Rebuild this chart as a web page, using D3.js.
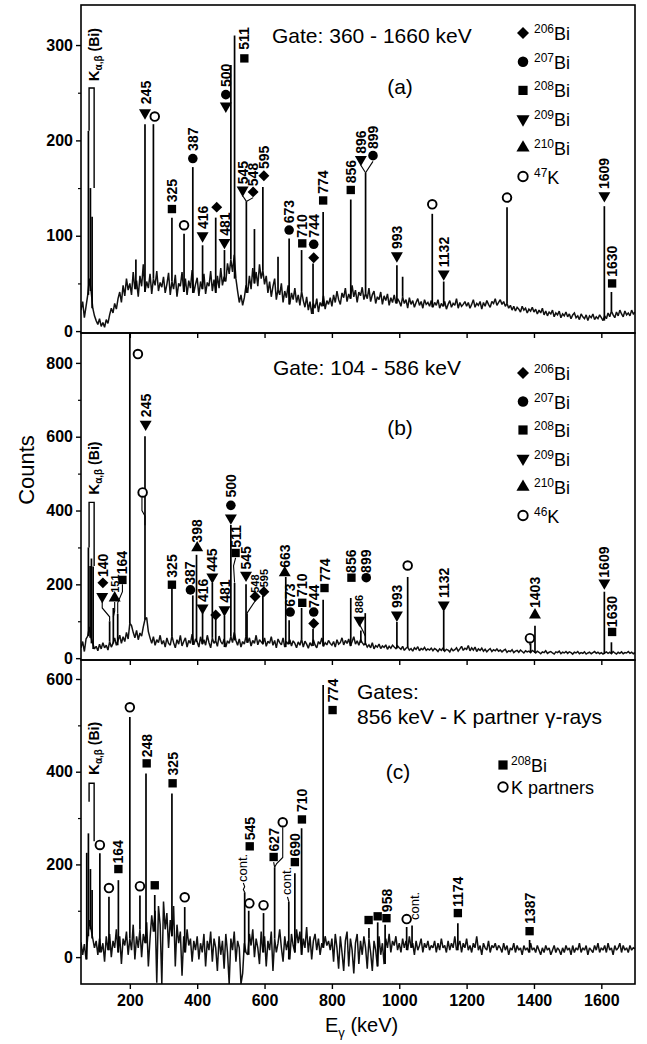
<!DOCTYPE html>
<html>
<head>
<meta charset="utf-8">
<script src="https://cdn.jsdelivr.net/npm/d3@7"></script>
<style>
  body { margin: 0; background: #fff; }
  text { font-family: "Liberation Sans", Arial, sans-serif; fill: #000; }
</style>
</head>
<body>
<svg></svg>
<script>
// spectra: counts every 5 keV starting at 55 keV
const eStart = 55, eStep = 5;
const xDomain = [55, 1700];
const xTicks = [200, 400, 600, 800, 1000, 1200, 1400, 1600];

// ---- panel (a) ----
const countsA = [
  22, 31, 14, 26, 38, 55, 42, 24, 16,
  11, 7, 13, 5, 9, 4, 12, 8, 17, 24, 19, 29, 23, 34, 41, 30, 48, 37, 55, 43,
  50, 38, 62, 44, 53, 36, 58, 47, 70, 41, 52, 45, 60, 39, 55, 48, 63, 42, 51, 46,
  57, 40, 49, 61, 38, 52, 44, 59, 36, 50, 47, 62, 41, 55, 38, 53, 45, 64, 40, 49,
  56, 37, 52, 44, 60, 39, 51, 47, 63, 42, 54, 40, 58, 45, 66, 48, 57, 52, 71, 60,
  75, 62, 80, 55, 42, 30, 38, 27, 35, 48, 40, 58, 44, 66, 50, 62, 47, 70, 55, 64,
  49, 58, 40, 52, 36, 47, 55, 33, 44, 38, 50, 30, 42, 35, 48, 28, 40, 33, 45, 30,
  38, 27, 42, 32, 25, 36, 22, 31, 18, 29, 24, 34, 20, 30, 26, 37, 23, 32, 28, 35,
  26, 38, 30, 42, 33, 28, 40, 35, 45, 31, 39, 34, 48, 36, 43, 30, 41, 37, 46, 33,
  40, 34, 45, 31, 38, 42, 29, 36, 33, 41, 28, 37, 32, 39, 27, 35, 30, 38, 29, 34,
  31, 26, 36, 29, 33, 24, 35, 28, 32, 25, 30, 34, 27, 31, 24, 33, 28, 30, 26, 32,
  25, 30, 27, 33, 24, 29, 26, 31, 23, 28, 32, 25, 29, 27, 34, 24, 30, 26, 28, 31,
  26, 30, 24, 28, 33, 25, 29, 27, 31, 23, 30, 26, 32, 28, 25, 31, 29, 34, 27, 30,
  33, 28, 31, 26, 29, 24, 27, 22, 26, 21, 25, 23, 20, 26, 22, 24, 19, 23, 21, 25,
  20, 23, 18, 22, 19, 24, 17, 21, 16, 20, 18, 22, 15, 19, 17, 21, 14, 18, 16, 20,
  15, 18, 13, 17, 19, 14, 16, 12, 18, 15, 13, 17, 11, 16, 14, 18, 12, 15, 13, 17,
  14, 11, 16, 13, 19, 15, 21, 17, 14, 20, 16, 22, 18, 15, 21, 17, 19, 16, 22, 18, 20
];
const peaksA = [[77, 210], [83, 150], [88, 120], [218, 75], [245, 217], [270, 217], [325, 119], [361, 102],
  [387, 172], [416, 90], [455, 119], [481, 85], [500, 279], [511, 310], [546, 136], [570, 107],
  [595, 151], [640, 78], [673, 97], [710, 85], [744, 71], [774, 125], [856, 138], [900, 166], [993, 69],
  [1010, 57], [1098, 123], [1132, 52], [1320, 130], [1609, 131], [1630, 41]];
const marksA = [[245, 229, 'v'], [274, 225, 'o'], [325, 128, 's'], [361, 111, 'o'], [387, 181, 'c'],
  [416, 100, 'v'], [458, 130, 'd'], [481, 93, 'v'], [485, 236, 'v'], [485, 248, 'c'], [540, 286, 's'],
  [535, 148, 'v'], [566, 146, 'd'], [598, 163, 'd'], [673, 106, 'c'], [712, 92, 's'], [746, 91, 'c'],
  [746, 77, 'd'], [774, 137, 's'], [856, 148, 's'], [886, 180, 'v'], [922, 184, 'c'], [993, 79, 'v'],
  [1098, 133, 'o'], [1132, 60, 'v'], [1320, 140, 'o'], [1609, 142, 'v'], [1632, 50, 's']];
const labelsA = [[247, 238, '245'], [325, 135, '325'], [387, 189, '387'], [416, 107, '416'],
  [481, 100, '481'], [485, 256, '500'], [540, 295, '511'], [535, 154, '545'], [566, 152, '548'],
  [598, 170, '595'], [673, 113, '673'], [712, 98, '710'], [746, 98, '744'], [774, 144, '774'],
  [856, 155, '856'], [886, 186, '896'], [922, 191, '899'], [993, 86, '993'], [1132, 67, '1132'],
  [1609, 149, '1609'], [1632, 57, '1630']];
const leadersA = [[[535, 142], [546, 136]], [[566, 140], [546, 136]],
  [[886, 174], [900, 166]], [[922, 178], [900, 166]]];
const bracketA = [79, 94, 255, 210, 150];
const kLabelA = [94, 262];
const legendA = [['d', '206', 'Bi'], ['c', '207', 'Bi'], ['s', '208', 'Bi'], ['v', '209', 'Bi'], ['^', '210', 'Bi'], ['o', '47', 'K']];
const yDomainA = [-2, 342], yMajorA = [0, 100, 200, 300], yMinorA = [50, 150, 250];

// ---- panel (b) ----
const countsB = [
  28, 45, 18, 52, 60, 85, 55, 40, 25,
  32, 20, 38, 25, 42, 28, 35, 22, 45, 30, 40, 55, 35, 48, 62, 40, 58, 45, 70, 52,
  95, 88, 70, 55, 75, 50, 68, 60, 85, 105, 110, 72, 55, 40, 58, 35, 50, 42, 62, 38,
  48, 30, 55, 40, 35, 60, 42, 28, 50, 38, 62, 33, 45, 55, 30, 48, 40, 65, 36, 52,
  44, 30, 58, 38, 50, 35, 62, 42, 28, 55, 40, 48, 32, 60, 45, 38, 52, 30, 47, 40,
  58, 42, 70, 48, 35, 52, 30, 45, 38, 60, 42, 55, 33, 48, 40, 62, 36, 50, 44, 38,
  55, 32, 46, 40, 58, 35, 48, 28, 52, 42, 36, 55, 30, 45, 38, 50, 33, 47, 40, 28,
  44, 35, 52, 30, 46, 38, 27, 42, 33, 50, 36, 28, 45, 38, 55, 32, 42, 36, 48, 40,
  35, 45, 30, 50, 38, 42, 55, 36, 48, 40, 52, 33, 45, 58, 38, 47, 35, 50, 42, 36,
  40, 30, 36, 28, 42, 25, 34, 30, 38, 26, 33, 29, 36, 24, 32, 27, 35, 30, 26, 33,
  28, 24, 32, 21, 27, 30, 22, 26, 19, 28, 24, 31, 20, 26, 23, 29, 21, 25, 22, 27,
  20, 26, 23, 18, 25, 21, 28, 19, 24, 22, 17, 26, 20, 23, 28, 19, 25, 32, 21, 27,
  24, 34, 20, 28, 22, 30, 18, 25, 21, 27, 19, 24, 17, 22, 26, 18, 23, 20, 25, 19,
  22, 17, 21, 24, 16, 20, 18, 23, 15, 19, 21, 16, 22, 18, 14, 20, 17, 19, 15, 21,
  18, 14, 19, 16, 12, 17, 15, 20, 13, 16, 18, 14, 11, 17, 15, 19, 12, 16, 14, 18,
  13, 17, 15, 11, 16, 14, 18, 12, 15, 13, 17, 11, 14, 16, 12, 15, 18, 13, 16, 12,
  15, 11, 14, 17, 13, 16, 12, 18, 14, 11, 16, 13, 17, 12, 15, 14, 18, 13, 16, 12, 15
];
const peaksB = [[77, 300], [82, 250], [86, 270], [91, 248], [140, 100], [151, 136], [164, 120],
  [200, 1000], [245, 601], [325, 190], [387, 170], [398, 280], [416, 123], [445, 204], [455, 110],
  [481, 115], [500, 361], [511, 204], [545, 200], [548, 122], [595, 170], [663, 220], [673, 103],
  [710, 136], [744, 80], [774, 158], [856, 163], [886, 75], [899, 122], [993, 98], [1025, 220],
  [1132, 128], [1390, 40], [1403, 88], [1609, 180], [1630, 43]];
const marksB = [[120, 204, 'd'], [118, 167, 'v'], [155, 163, '^'], [178, 212, 's'], [224, 824, 'o'],
  [247, 634, 'v'], [238, 449, 'o'], [325, 199, 's'], [380, 185, 'c'], [400, 299, '^'], [416, 136, 'v'],
  [445, 220, 'v'], [455, 117, 'd'], [481, 131, 'v'], [500, 414, 'c'], [500, 380, 'v'], [514, 285, 's'],
  [545, 225, 'v'], [572, 167, 'd'], [598, 180, 'd'], [660, 231, '^'], [676, 125, 'c'], [712, 150, 's'],
  [746, 125, 'c'], [746, 94, 'd'], [778, 190, 's'], [858, 218, 's'], [882, 103, 'v'], [902, 218, 'c'],
  [993, 117, 'v'], [1025, 251, 'o'], [1132, 144, 'v'], [1403, 117, '^'], [1388, 54, 'o'],
  [1609, 204, 'v'], [1632, 71, 's']];
const labelsB = [[120, 220, '140'], [157, 177, '151', 1], [178, 227, '164'], [247, 653, '245'],
  [325, 218, '325'], [380, 199, '387'], [400, 313, '398'], [416, 152, '416'], [445, 234, '445'],
  [481, 150, '481'], [500, 435, '500'], [514, 299, '511'], [545, 240, '545'], [572, 177, '548', 1],
  [598, 192, '595', 1], [660, 245, '663'], [676, 139, '673'], [712, 166, '710'], [746, 136, '744'],
  [778, 207, '774'], [858, 231, '856'], [882, 122, '886', 1], [902, 231, '899'], [993, 136, '993'],
  [1132, 163, '1132'], [1403, 136, '1403'], [1609, 218, '1609'], [1632, 84, '1630']];
const leadersB = [[[118, 152], [118, 136], [140, 112], [140, 100]],
  [[155, 152], [155, 128], [151, 112]],
  [[178, 200], [178, 180], [164, 150], [164, 120]],
  [[236, 436], [236, 400], [245, 385], [245, 360]],
  [[514, 272], [508, 250], [511, 205]],
  [[572, 155], [548, 122]],
  [[882, 92], [893, 72], [899, 60]],
  [[1388, 42], [1388, 35]]];
const bracketB = [79, 94, 422, 300, 250];
const kLabelB = [94, 443];
const legendB = [['d', '206', 'Bi'], ['c', '207', 'Bi'], ['s', '208', 'Bi'], ['v', '209', 'Bi'], ['^', '210', 'Bi'], ['o', '46', 'K']];
const yDomainB = [-5, 881], yMajorB = [0, 200, 400, 600, 800], yMinorB = [100, 300, 500, 700];

// ---- panel (c) ----
const countsC = [
  32, 5, 28, -5, 45, 80, 60, 40, 20,
  35, 5, 40, 10, 30, -10, 45, 15, 50, 0, 35, 20, 60, 10, 45, -15, 40, 25, 55, 5,
  40, 15, 70, -5, 45, 20, 60, 0, 50, 30, 75, -20, 40, 90, 55, 100, -55, 110, 70, -58,
  120, 60, 95, 20, 80, 45, 110, -20, 70, 30, 55, -40, 45, 10, 60, 25, 40, -10, 35, 15,
  45, -5, 30, 10, 50, -20, 35, 15, 55, -10, 40, 20, -30, 45, 5, 35, -25, 50, 10, -58,
  40, 15, 55, -10, 35, 20, -58, -35, 30, 10, 5, 50, 25, 60, 0, 40, 20, -15, 55, 10,
  45, -20, 35, 15, 55, -30, 40, 10, 30, 60, 20, -10, 45, 15, 35, -5, 50, 25, 10, 60,
  30, 55, 5, 40, 20, 65, 10, 45, -5, 35, 50, 15, 40, 5, 30, 20, 45, 25, 35, 15,
  40, -10, 50, 20, -25, 45, 10, -30, 35, 55, -20, 40, 15, -35, 30, 50, -15, 35, 5, 45,
  20, -25, 40, 10, -30, 35, 15, -20, 45, 5, 30, -15, 40, 20, 50, 10, 35, 25, 45, 15,
  30, 10, 40, 20, 35, 15, 45, 20, 30, 5, 35, 15, 25, 40, 10, 30, 20, 35, 15, 25,
  20, 35, 10, 30, 15, 40, 20, 25, 10, 35, 15, 30, 20, 45, 15, 25, 35, 10, 30, 20,
  40, 15, 25, 10, 30, 20, 45, 15, 25, 5, 30, 20, 15, 35, 10, 25, 20, 30, 15, 25,
  20, 10, 30, 15, 25, 5, 20, 15, 30, 10, 25, 15, 20, 5, 25, 15, 20, 10, 30, 15,
  20, 10, 25, 15, 5, 20, 10, 25, 15, 20, 5, 15, 25, 10, 20, 15, 5, 20, 10, 25,
  15, 20, 5, 25, 10, 20, 15, 30, 10, 20, 15, 25, 5, 20, 15, 10, 25, 15, 30, 10,
  20, 15, 25, 10, 30, 15, 20, 5, 25, 15, 20, 30, 10, 25, 15, 20, 10, 25, 15, 20, 18
];
const peaksC = [[72, 225], [77, 267], [83, 190], [88, 145], [111, 224], [138, 130], [166, 166],
  [200, 518], [230, 133], [248, 396], [274, 134], [325, 353], [363, 108], [541, 140], [553, 100],
  [597, 95], [630, 194], [672, 120], [690, 181], [710, 278], [774, 587], [910, 63], [936, 75],
  [958, 70], [1022, 65], [1038, 68], [1174, 73], [1387, 37]];
const marksC = [[111, 242, 'o'], [138, 149, 'o'], [166, 190, 's'], [200, 539, 'o'], [230, 153, 'o'],
  [250, 418, 's'], [274, 155, 's'], [327, 375, 's'], [363, 129, 'o'], [556, 239, 's'], [555, 116, 'o'],
  [597, 112, 'o'], [627, 216, 's'], [654, 291, 'o'], [690, 205, 's'], [711, 297, 's'], [802, 533, 's'],
  [909, 80, 's'], [936, 88, 's'], [962, 84, 's'], [1022, 82, 'o'], [1174, 95, 's'], [1387, 56, 's']];
const labelsC = [[166, 202, '164'], [250, 431, '248'], [327, 392, '325'], [556, 252, '545'],
  [627, 228, '627'], [690, 217, '690'], [711, 313, '710'], [802, 550, '774'], [962, 97, '958'],
  [1174, 108, '1174'], [1387, 72, '1387'],
  [535, 162, 'cont.', 2], [666, 134, 'cont.', 2], [1045, 80, 'cont.', 2]];
const leadersC = [[[537, 160], [541, 152], [537, 146], [541, 140]],
  [[627, 205], [630, 194]],
  [[654, 280], [654, 215], [636, 202], [630, 194]],
  [[668, 130], [672, 120]]];
const bracketC = [79, 94, 375, 335, 250];
const kLabelC = [94, 393];
const legendC = [['s', '208', 'Bi'], ['o', '', 'K partners']];
const yDomainC = [-58, 641], yMajorC = [0, 200, 400, 600], yMinorC = [100, 300, 500];

// ---- layout ----
const svg = d3.select('svg').attr('width', 647).attr('height', 1044);
const x = d3.scaleLinear().domain(xDomain).range([81, 635]);

const panels = [
  {top: 5, bottom: 333, yDomain: yDomainA, yMajor: yMajorA, yMinor: yMinorA, counts: countsA,
   peaks: peaksA, marks: marksA, labels: labelsA, leaders: leadersA, bracket: bracketA, kLabel: kLabelA,
   legend: legendA, legendX: 523, legendTop: 28, legendGap: 28.7,
   titles: [['Gate: 360 - 1660 keV', 272, 38]], tag: ['(a)', 400, 89]},
  {top: 333, bottom: 660, yDomain: yDomainB, yMajor: yMajorB, yMinor: yMinorB, counts: countsB,
   peaks: peaksB, marks: marksB, labels: labelsB, leaders: leadersB, bracket: bracketB, kLabel: kLabelB,
   legend: legendB, legendX: 523, legendTop: 40, legendGap: 28.5,
   titles: [['Gate: 104 - 586 keV', 273, 42]], tag: ['(b)', 400, 102]},
  {top: 660, bottom: 984, yDomain: yDomainC, yMajor: yMajorC, yMinor: yMinorC, counts: countsC,
   peaks: peaksC, marks: marksC, labels: labelsC, leaders: leadersC, bracket: bracketC, kLabel: kLabelC,
   legend: legendC, legendX: 503, legendTop: 105, legendGap: 22,
   titles: [['Gates:', 357, 39], ['856 keV - K partner \u03b3-rays', 357, 64]], tag: ['(c)', 398, 119], last: true}
];

const points = counts => counts.map((c, i) => [eStart + i * eStep, c]);
// foot of a peak: the lower of the two neighbouring background channels
const foot = (counts, e) => {
  const i = (e - eStart) / eStep;
  const lo = counts[Math.max(0, Math.floor(i))], hi = counts[Math.min(counts.length - 1, Math.ceil(i))];
  return Math.min(lo, hi);
};

function drawSymbol(g, type, cx, cy, k = 1) {
  if (type === 'o') {
    g.append('circle').attr('cx', cx).attr('cy', cy).attr('r', 4.3 * k)
      .attr('fill', '#fff').attr('stroke', '#000').attr('stroke-width', 1.9);
    return;
  }
  const def = {s: [d3.symbolSquare, 70, 0], d: [d3.symbolSquare, 60, 45], c: [d3.symbolCircle, 72, 0],
    v: [d3.symbolTriangle, 62, 180], '^': [d3.symbolTriangle, 62, 0]}[type];
  g.append('path').attr('d', d3.symbol(def[0], def[1] * k * k)())
    .attr('transform', `translate(${cx},${cy}) rotate(${def[2]})`)
    .attr('fill', '#000');
}

panels.forEach((p, pi) => {
  const y = d3.scaleLinear().domain(p.yDomain).range([p.bottom, p.top]);
  const g = svg.append('g');

  g.append('clipPath').attr('id', 'clip' + pi)
    .append('rect').attr('x', 81).attr('y', p.top).attr('width', 554).attr('height', p.bottom - p.top);
  const plot = g.append('g').attr('clip-path', `url(#clip${pi})`);

  const line = d3.line().x(d => x(d[0])).y(d => y(d[1]));
  plot.append('path')
    .attr('d', line(points(p.counts)))
    .attr('fill', 'none').attr('stroke', '#111').attr('stroke-width', 1.5)
    .attr('stroke-linejoin', 'miter').attr('stroke-miterlimit', 2);

  plot.selectAll('line.peak').data(p.peaks).join('line').attr('class', 'peak')
    .attr('x1', d => x(d[0])).attr('x2', d => x(d[0]))
    .attr('y1', d => y(foot(p.counts, d[0]))).attr('y2', d => y(d[1]))
    .attr('stroke', '#000').attr('stroke-width', 1.7);

  g.append('rect').attr('x', 81).attr('y', p.top).attr('width', 554).attr('height', p.bottom - p.top)
    .attr('fill', 'none').attr('stroke', '#000').attr('stroke-width', 1.6);

  // y axis
  const ya = g.append('g').attr('transform', 'translate(81,0)')
    .call(d3.axisLeft(y).tickValues(p.yMajor).tickSize(5).tickPadding(3));
  ya.select('.domain').remove();
  ya.selectAll('line').attr('stroke-width', 1.4);
  ya.selectAll('text').style('font-size', '16px').style('font-weight', 'bold')
    .style('font-family', '"Liberation Sans", Arial, sans-serif');
  const ym = g.append('g').attr('transform', 'translate(81,0)')
    .call(d3.axisLeft(y).tickValues(p.yMinor).tickSize(3).tickFormat(''));
  ym.select('.domain').remove();
  ym.selectAll('line').attr('stroke-width', 1.2);

  // x axis
  const xa = g.append('g').attr('transform', `translate(0,${p.bottom})`)
    .call(d3.axisBottom(x).tickValues(xTicks).tickSize(5).tickPadding(6)
      .tickFormat(p.last ? d3.format('d') : ''));
  xa.select('.domain').remove();
  xa.selectAll('line').attr('stroke-width', 1.4);
  xa.selectAll('text').style('font-size', '16px').style('font-weight', 'bold')
    .style('font-family', '"Liberation Sans", Arial, sans-serif');

  // K x-ray bracket
  const b = p.bracket;
  g.append('path')
    .attr('d', `M${x(b[0])},${y(b[3])}V${y(b[2])}H${x(b[1])}V${y(b[4])}`)
    .attr('fill', 'none').attr('stroke', '#000').attr('stroke-width', 1.4);
  const kt = g.append('text')
    .attr('transform', `translate(${x(p.kLabel[0])},${y(p.kLabel[1])}) rotate(-90)`)
    .style('font-weight', 'bold');
  kt.append('tspan').attr('dy', 5).style('font-size', '15px').text('K');
  kt.append('tspan').attr('dy', 3).style('font-size', '10px').text('\u03b1,\u03b2');
  kt.append('tspan').attr('dy', -3).style('font-size', '14px').text(' (Bi)');

  // leader lines
  const lead = d3.line().x(d => x(d[0])).y(d => y(d[1]));
  g.selectAll('path.leader').data(p.leaders).join('path').attr('class', 'leader')
    .attr('d', lead).attr('fill', 'none').attr('stroke', '#000').attr('stroke-width', 1.1);

  // markers and energy labels
  p.marks.forEach(m => drawSymbol(g, m[2], x(m[0]), y(m[1])));
  g.selectAll('text.lbl').data(p.labels).join('text').attr('class', 'lbl')
    .attr('transform', d => `translate(${x(d[0])},${y(d[1])}) rotate(-90)`)
    .attr('dy', '0.36em')
    .style('font-size', d => d[3] === 1 ? '11px' : d[3] === 2 ? '13px' : '14px')
    .style('font-weight', d => d[3] === 2 ? 'normal' : 'bold')
    .text(d => d[2]);

  // legend
  p.legend.forEach((r, i) => {
    const cy = p.top + p.legendTop + i * p.legendGap;
    drawSymbol(g, r[0], p.legendX, cy, 1.1);
    const t = g.append('text').attr('x', p.legendX + (p.last ? 8 : 11)).attr('y', cy + 7);
    if (r[1]) {
      t.append('tspan').attr('dy', -7).style('font-size', '12px').text(r[1]);
      t.append('tspan').attr('dy', 7).style('font-size', '18px').text(r[2]);
    } else {
      t.append('tspan').style('font-size', '18px').text(r[2]);
    }
  });

  // titles
  p.titles.forEach(tt => g.append('text').attr('x', tt[1]).attr('y', p.top + tt[2])
    .style('font-size', '21px').text(tt[0]));
  g.append('text').attr('x', p.tag[1]).attr('y', p.top + p.tag[2]).attr('text-anchor', 'middle')
    .style('font-size', '21px').text(p.tag[0]);
});

// axis titles
svg.append('text').attr('transform', 'translate(26,470) rotate(-90)')
  .attr('text-anchor', 'middle').attr('dy', '0.35em')
  .style('font-size', '22px').text('Counts');
const xt = svg.append('text').attr('x', 325).attr('y', 1032).style('font-size', '20px');
xt.append('tspan').text('E');
xt.append('tspan').attr('dy', 5).style('font-size', '13px').text('\u03b3');
xt.append('tspan').attr('dy', -5).text(' (keV)');
</script>
</body>
</html>
